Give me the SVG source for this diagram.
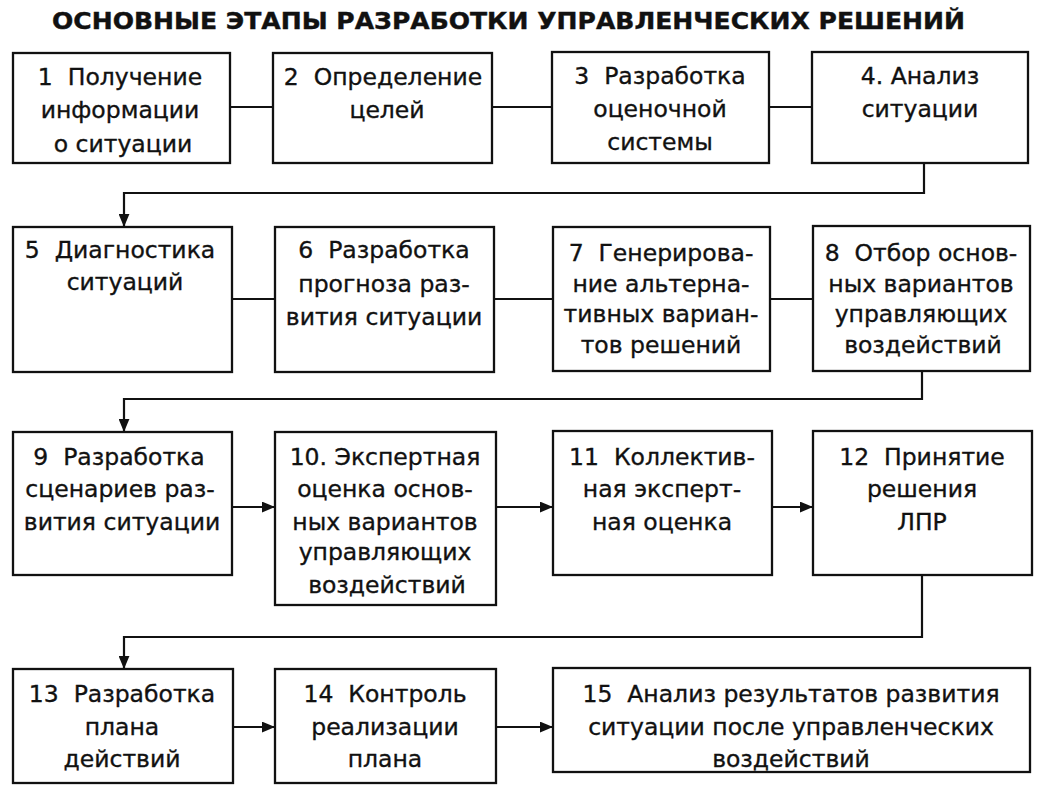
<svg xmlns="http://www.w3.org/2000/svg" width="1064" height="792" viewBox="0 0 1064 792">
<style>
.bg{fill:#fff}
.box{fill:#fff;stroke:#111;stroke-width:2.3}
.t{font-family:"DejaVu Sans","Liberation Sans",sans-serif;font-size:23.5px;fill:#111;stroke:#111;stroke-width:0.35;text-anchor:middle}
.title{font-family:"DejaVu Sans","Liberation Sans",sans-serif;font-size:23px;font-weight:bold;fill:#111;stroke:#111;stroke-width:0.4}
.ln{fill:none;stroke:#111;stroke-width:2.2}
</style>
<defs>
<marker id="ah" viewBox="0 0 12 10" refX="12" refY="5" markerWidth="13" markerHeight="11" markerUnits="userSpaceOnUse" orient="auto">
<path d="M0,0 L12,5 L0,10 Z" fill="#111"/>
</marker>
</defs>
<rect class="bg" x="0" y="0" width="1064" height="792"/>
<text class="title" x="52" y="29" textLength="913" lengthAdjust="spacingAndGlyphs">ОСНОВНЫЕ ЭТАПЫ РАЗРАБОТКИ УПРАВЛЕНЧЕСКИХ РЕШЕНИЙ</text>

<g id="connectors">
<line class="ln" x1="230" y1="107" x2="273" y2="107"/>
<line class="ln" x1="492" y1="107" x2="552" y2="107"/>
<line class="ln" x1="769" y1="107" x2="812" y2="107"/>
<path class="ln" d="M924,163 V193 H124 V227" marker-end="url(#ah)"/>
<line class="ln" x1="232" y1="299" x2="275" y2="299"/>
<line class="ln" x1="494" y1="299" x2="553" y2="299"/>
<line class="ln" x1="770" y1="299" x2="813" y2="299"/>
<path class="ln" d="M922,371 V399 H124 V432" marker-end="url(#ah)"/>
<line class="ln" x1="232" y1="507" x2="275" y2="507" marker-end="url(#ah)"/>
<line class="ln" x1="496" y1="507" x2="553" y2="507" marker-end="url(#ah)"/>
<line class="ln" x1="772" y1="507" x2="813" y2="507" marker-end="url(#ah)"/>
<path class="ln" d="M922,575 V637 H124 V669" marker-end="url(#ah)"/>
<line class="ln" x1="233" y1="727" x2="275" y2="727" marker-end="url(#ah)"/>
<line class="ln" x1="496" y1="727" x2="553" y2="727" marker-end="url(#ah)"/>
</g>

<g id="n1"><rect class="box" x="13" y="53" width="217" height="110"/>
<text class="t" x="120" y="85">1&#160; Получение</text><text class="t" x="120" y="118">информации</text><text class="t" x="123" y="152">о ситуации</text></g>
<g id="n2"><rect class="box" x="273" y="53" width="219" height="110"/>
<text class="t" x="383" y="85">2&#160; Определение</text><text class="t" x="387" y="118">целей</text></g>
<g id="n3"><rect class="box" x="552" y="52" width="217" height="111"/>
<text class="t" x="660" y="84">3&#160; Разработка</text><text class="t" x="660" y="117">оценочной</text><text class="t" x="660" y="150">системы</text></g>
<g id="n4"><rect class="box" x="812" y="52" width="216" height="111"/>
<text class="t" x="920" y="84">4. Анализ</text><text class="t" x="920" y="117">ситуации</text></g>

<g id="n5"><rect class="box" x="13" y="227" width="219" height="145"/>
<text class="t" x="120" y="258">5&#160; Диагностика</text><text class="t" x="125" y="290">ситуаций</text></g>
<g id="n6"><rect class="box" x="275" y="227" width="219" height="145"/>
<text class="t" x="384" y="258">6&#160; Разработка</text><text class="t" x="384" y="292">прогноза раз-</text><text class="t" x="384" y="325">вития ситуации</text></g>
<g id="n7"><rect class="box" x="553" y="227" width="217" height="144"/>
<text class="t" x="661" y="261">7&#160; Генерирова-</text><text class="t" x="661" y="292">ние альтерна-</text><text class="t" x="661" y="322">тивных вариан-</text><text class="t" x="661" y="353">тов решений</text></g>
<g id="n8"><rect class="box" x="813" y="226" width="217" height="145"/>
<text class="t" x="921" y="261">8&#160; Отбор основ-</text><text class="t" x="921" y="292">ных вариантов</text><text class="t" x="921" y="322">управляющих</text><text class="t" x="923" y="353">воздействий</text></g>

<g id="n9"><rect class="box" x="13" y="432" width="219" height="143"/>
<text class="t" x="119" y="465">9&#160; Разработка</text><text class="t" x="120" y="497">сценариев раз-</text><text class="t" x="122" y="530">вития ситуации</text></g>
<g id="n10"><rect class="box" x="275" y="432" width="221" height="173"/>
<text class="t" x="385" y="465">10. Экспертная</text><text class="t" x="385" y="497">оценка основ-</text><text class="t" x="385" y="530">ных вариантов</text><text class="t" x="385" y="560">управляющих</text><text class="t" x="387" y="593">воздействий</text></g>
<g id="n11"><rect class="box" x="553" y="431" width="219" height="144"/>
<text class="t" x="662" y="465">11&#160; Коллектив-</text><text class="t" x="662" y="497">ная эксперт-</text><text class="t" x="662" y="530">ная оценка</text></g>
<g id="n12"><rect class="box" x="813" y="431" width="219" height="144"/>
<text class="t" x="922" y="465">12&#160; Принятие</text><text class="t" x="922" y="497">решения</text><text class="t" x="922" y="530">ЛПР</text></g>

<g id="n13"><rect class="box" x="13" y="669" width="220" height="114"/>
<text class="t" x="122" y="702">13&#160; Разработка</text><text class="t" x="122" y="735">плана</text><text class="t" x="122" y="767">действий</text></g>
<g id="n14"><rect class="box" x="275" y="669" width="221" height="114"/>
<text class="t" x="385" y="702">14&#160; Контроль</text><text class="t" x="385" y="735">реализации</text><text class="t" x="385" y="767">плана</text></g>
<g id="n15"><rect class="box" x="553" y="668" width="477" height="104"/>
<text class="t" x="791" y="702">15&#160; Анализ результатов развития</text><text class="t" x="791" y="735">ситуации после управленческих</text><text class="t" x="791" y="767">воздействий</text></g>
</svg>
